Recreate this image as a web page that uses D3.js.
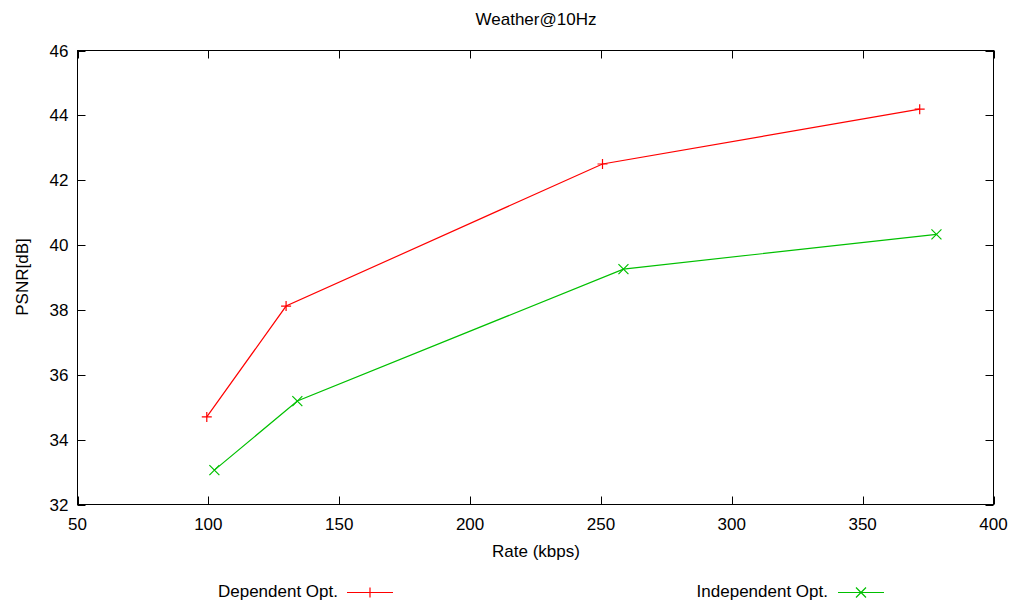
<!DOCTYPE html>
<html><head><meta charset="utf-8">
<script src="https://cdn.jsdelivr.net/npm/d3@7"></script>
<style>body{margin:0;background:#fff}svg{display:block}text{font-family:"Liberation Sans",Arial,sans-serif;fill:#000}</style>
</head><body><svg id="c" width="1014" height="606"></svg>
<script>
const title = "Weather@10Hz";
const xLabel = "Rate (kbps)";
const yLabel = "PSNR[dB]";
const xTicks = [50,100,150,200,250,300,350,400];
const yTicks = [32,34,36,38,40,42,44,46];
const depRate = [99.4,129.7,250.6,371.8];
const depPSNR = [34.70,38.12,42.50,44.19];
const indRate = [102.3,134.0,258.6,378.2];
const indPSNR = [33.06,35.19,39.26,40.33];
const seriesNames = ["Dependent Opt.","Independent Opt."];

const svg = d3.select("#c");
const L=77.5,R=993.5,T=50.5,B=504.5;
const x = d3.scaleLinear().domain([50,400]).range([L,R]);
const y = d3.scaleLinear().domain([32,46]).range([B,T]);
const tl=8, fs=17;
const g = svg.append("g");
xTicks.forEach(v=>{
  const px=Math.round(x(v))+0.5;
  g.append("line").attr("x1",px).attr("x2",px).attr("y1",B).attr("y2",B-tl).attr("stroke","#000");
  g.append("line").attr("x1",px).attr("x2",px).attr("y1",T).attr("y2",T+tl).attr("stroke","#000");
  g.append("text").attr("x",x(v)).attr("y",B+25).attr("text-anchor","middle").attr("font-size",fs).text(v);
});
yTicks.forEach(v=>{
  const py=Math.round(y(v))+0.5;
  g.append("line").attr("x1",L).attr("x2",L+tl).attr("y1",py).attr("y2",py).attr("stroke","#000");
  g.append("line").attr("x1",R).attr("x2",R-tl).attr("y1",py).attr("y2",py).attr("stroke","#000");
  g.append("text").attr("x",L-9).attr("y",y(v)+6).attr("text-anchor","end").attr("font-size",fs).text(v);
});
g.append("rect").attr("x",L).attr("y",T).attr("width",R-L).attr("height",B-T).attr("fill","none").attr("stroke","#000");

svg.append("text").attr("x",536).attr("y",25).attr("text-anchor","middle").attr("font-size",fs).text(title);
svg.append("text").attr("x",536).attr("y",557).attr("text-anchor","middle").attr("font-size",fs).text(xLabel);
svg.append("text").attr("transform","translate(28,277) rotate(-90)").attr("text-anchor","middle").attr("font-size",fs).text(yLabel);

function plus(sel,cx,cy,c){const s=5;sel.append("path").attr("d",`M${cx-s},${cy}H${cx+s}M${cx},${cy-s}V${cy+s}`).attr("stroke",c).attr("stroke-width",1.2).attr("fill","none");}
function cross(sel,cx,cy,c){const s=5;sel.append("path").attr("d",`M${cx-s},${cy-s}L${cx+s},${cy+s}M${cx-s},${cy+s}L${cx+s},${cy-s}`).attr("stroke",c).attr("stroke-width",1.2).attr("fill","none");}

const line=d3.line().x(d=>x(d[0])).y(d=>y(d[1]));
const series=[
  {name:seriesNames[0],xs:depRate,ys:depPSNR,color:"#ff0000",mark:plus,lx:338,ll:347,lr:393},
  {name:seriesNames[1],xs:indRate,ys:indPSNR,color:"#00c000",mark:cross,lx:828,ll:838,lr:884}
];
series.forEach(s=>{
  const pts=s.xs.map((v,i)=>[v,s.ys[i]]);
  svg.append("path").attr("d",line(pts)).attr("fill","none").attr("stroke",s.color).attr("stroke-width",1.2);
  pts.forEach(p=>s.mark(svg,x(p[0]),y(p[1]),s.color));
  const ly=592.5;
  svg.append("text").attr("x",s.lx).attr("y",597).attr("text-anchor","end").attr("font-size",fs).text(s.name);
  svg.append("line").attr("x1",s.ll).attr("x2",s.lr).attr("y1",ly).attr("y2",ly).attr("stroke",s.color).attr("stroke-width",1.2);
  s.mark(svg,(s.ll+s.lr)/2,ly,s.color);
});
</script></body></html>
